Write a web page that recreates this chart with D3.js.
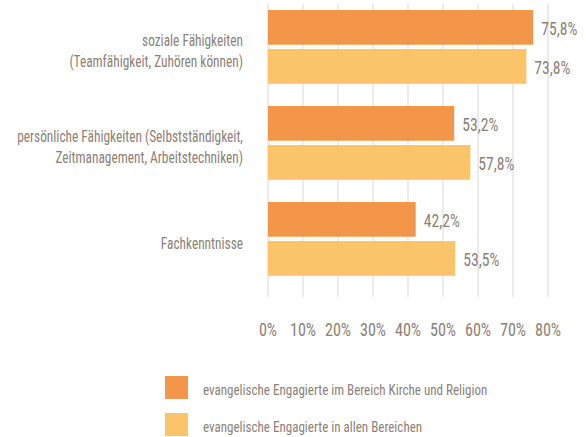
<!DOCTYPE html>
<html>
<head>
<meta charset="utf-8">
<script src="https://cdn.jsdelivr.net/npm/d3@7"></script>
<style>
  html, body { margin: 0; padding: 0; background: #fff; }
  svg text { font-family: "Liberation Sans Narrow", "Roboto Condensed", "DejaVu Sans Condensed", sans-serif; fill: #8c8178; }
</style>
</head>
<body>
<svg id="chart" width="586" height="437"></svg>
<script>
// Skill categories (each may wrap onto two lines)
const categories = [
  ["soziale Fähigkeiten", "(Teamfähigkeit, Zuhören können)"],
  ["persönliche Fähigkeiten (Selbstständigkeit,", "Zeitmanagement, Arbeitstechniken)"],
  ["Fachkenntnisse"]
];
const seriesNames = [
  "evangelische Engagierte im Bereich Kirche und Religion",
  "evangelische Engagierte in allen Bereichen"
];
const kircheValues = [75.8, 53.2, 42.2];
const alleValues = [73.8, 57.8, 53.5];
const tickValues = [0, 10, 20, 30, 40, 50, 60, 70, 80];
const colors = ["#f39649", "#fbc46a"];

const svg = d3.select("#chart");

const x = d3.scaleLinear().domain([0, 80]).range([268, 548]);
const y = d3.scaleBand()
  .domain(d3.range(categories.length))
  .range([-1.1, 286.9])
  .paddingInner(0.232)
  .paddingOuter(0.116);
const ySub = d3.scaleBand()
  .domain([0, 1])
  .range([0, y.bandwidth()])
  .paddingInner(0.11);

const fmt = v => d3.format(".1f")(v).replace(".", ",") + "%";

// vertical gridlines
svg.append("g").selectAll("line")
  .data(tickValues)
  .join("line")
  .attr("x1", d => x(d)).attr("x2", d => x(d))
  .attr("y1", 4).attr("y2", 297)
  .attr("stroke", "#e6e4e2")
  .attr("stroke-width", 1.5);

// bars
const series = [kircheValues, alleValues];
const groups = svg.append("g").selectAll("g")
  .data(categories.map((c, i) => i))
  .join("g")
  .attr("transform", i => `translate(0,${y(i)})`);

groups.selectAll("rect")
  .data(i => series.map((s, k) => ({ k, v: s[i] })))
  .join("rect")
  .attr("x", x(0))
  .attr("y", d => ySub(d.k))
  .attr("width", d => x(d.v) - x(0))
  .attr("height", ySub.bandwidth())
  .attr("fill", d => colors[d.k]);

// value labels, tall condensed type
groups.selectAll("text.val")
  .data(i => series.map((s, k) => ({ k, v: s[i] })))
  .join("text")
  .attr("class", "val")
  .attr("transform", d => `translate(${x(d.v) + 8},${ySub(d.k) + ySub.bandwidth() / 2 + 7.5}) scale(0.87,1)`)
  .attr("font-size", 18)
  .text(d => fmt(d.v));

// category labels, condensed horizontally
svg.append("g").selectAll("g")
  .data(categories)
  .join("g")
  .attr("transform", (lines, i) => {
    const cy = y(i) + y.bandwidth() / 2 + 4;
    return `translate(243,${cy}) scale(0.8,1)`;
  })
  .append("text")
  .attr("text-anchor", "end")
  .attr("font-size", 16.7)
  .each(function (lines) {
    const lh = 21;
    const top = -(lines.length - 1) * lh / 2;
    d3.select(this).selectAll("tspan")
      .data(lines)
      .join("tspan")
      .attr("x", 0)
      .attr("y", (d, j) => top + j * lh + 6)
      .text(d => d);
  });

// x axis tick labels
svg.append("g").selectAll("text")
  .data(tickValues)
  .join("text")
  .attr("transform", d => `translate(${x(d)},336) scale(0.9,1)`)
  .attr("text-anchor", "middle")
  .attr("font-size", 18)
  .text(d => d + "%");

// legend
const legend = svg.append("g").selectAll("g")
  .data(seriesNames)
  .join("g")
  .attr("transform", (d, i) => `translate(165,${376 + i * 37})`);
legend.append("rect")
  .attr("width", 23).attr("height", 23)
  .attr("fill", (d, i) => colors[i]);
legend.append("text")
  .attr("transform", "translate(38,19) scale(0.87,1)")
  .attr("font-size", 15)
  .text(d => d);
</script>
</body>
</html>
